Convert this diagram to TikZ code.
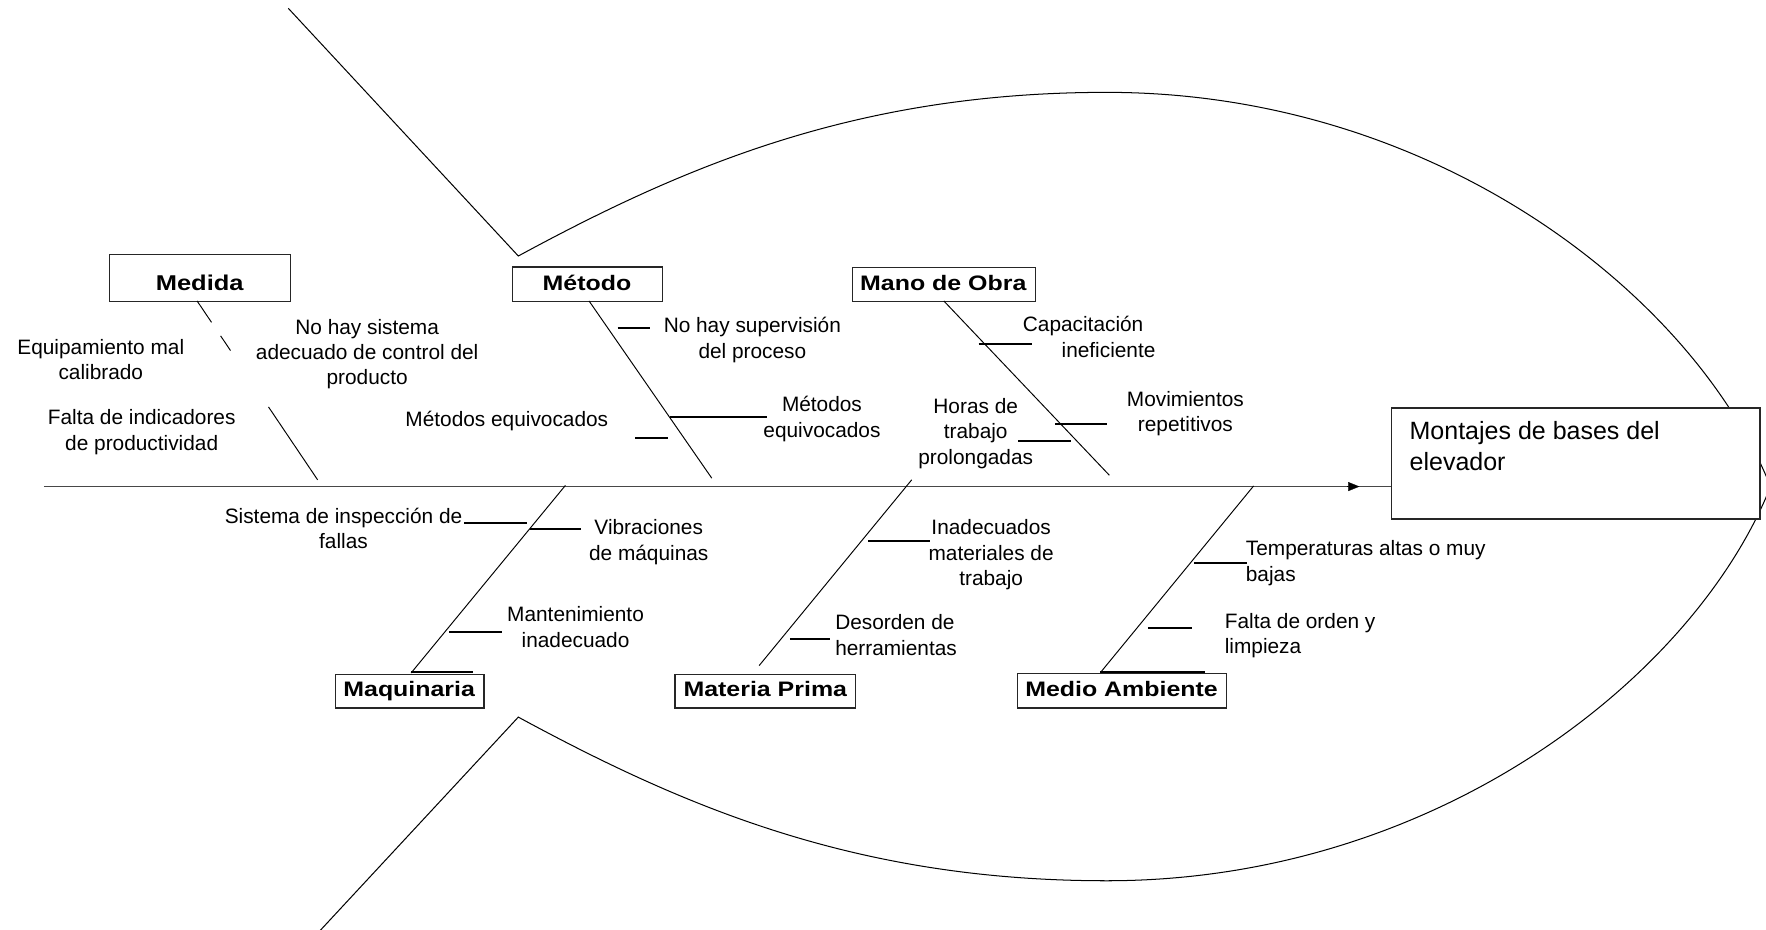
\documentclass[tikz,border=0pt]{standalone}
\usepackage{fontspec}
\setmainfont{Liberation Sans}
\newfontfamily\labfont{Liberation Sans}[FakeStretch=1.19]
\usetikzlibrary{arrows.meta}
\begin{document}
\begin{tikzpicture}[x=1pt,y=-1pt,
  txt/.style={inner sep=0pt, font=\fontsize{18.5}{22.5}\selectfont, align=center},
  lab/.style={inner sep=0pt, font=\labfont\bfseries\fontsize{18.6}{22}\selectfont},
  catbox/.style={draw=black!85, line width=1.1pt, fill=white, inner sep=0pt, anchor=north west},
  bone/.style={line width=0.85pt, black},
  tickln/.style={line width=1.8pt, black},
  outline/.style={line width=0.9pt, black},
  spine/.style={line width=1.5pt, black!72}]
\clip (0,0) rectangle (1568,825);
\fill[white] (0,0) rectangle (1568,825);

% fish outline
\draw[outline] (256,7.4) -- (460.2,227.3)
  .. controls (610.2,146) and (762.6,82) .. (982.6,82)
  .. controls (1277.6,82) and (1505.4,264.8) .. (1572,432);
\draw[outline] (256,856.6) -- (460.2,636.7)
  .. controls (610.2,718) and (762.6,782) .. (982.6,782)
  .. controls (1277.6,782) and (1505.4,599.2) .. (1572,432);

% effect box
\node[catbox, minimum width=327.4pt, minimum height=98.6pt] (effect) at (1234.8,361.6) {};
\node[anchor=base west, align=left, inner sep=0pt, font=\fontsize{22.2}{27.3}\selectfont] (efft) at (1251.4,417.9) {Montajes de bases del\\elevador};

% spine
\coordinate (tail) at (39,432);
\coordinate (tip) at (1207,432);
\coordinate (pre) at (1196,432);
\draw[spine] (tail) -- (tail -| effect.west);
\draw[black, line width=0.2pt, -{Triangle[length=10pt,width=8pt]}] (pre) -- (tip);

% category boxes
\node[catbox, minimum width=160.6pt, minimum height=41.7pt] (medida) at (97,225.5) {};
\node[catbox, minimum width=133.5pt, minimum height=30.6pt] (metodo) at (454.5,236.6) {};
\node[catbox, minimum width=162.6pt, minimum height=30.4pt] (mano) at (756.3,236.8) {};
\node[catbox, minimum width=132.1pt, minimum height=29.6pt] (maq) at (297,598.4) {};
\node[catbox, minimum width=160.6pt, minimum height=29.6pt] (mat) at (598.7,598.4) {};
\node[catbox, minimum width=185.7pt, minimum height=30.8pt] (medio) at (903,597.2) {};

\node[lab, anchor=base, font=\labfont\bfseries\fontsize{19}{22}\selectfont] (medidat) at (177.3,257.5) {Medida};
\node[lab, anchor=base] (metodot) at (521.2,257.5) {Método};
\node[lab, anchor=base] (manot) at (837.5,257.5) {Mano de Obra};
\node[lab, anchor=base] (maqt) at (363.3,618.5) {Maquinaria};
\node[lab, anchor=base] (matt) at (679.5,618.5) {Materia Prima};
\node[lab, anchor=base] (mediot) at (995.8,618) {Medio Ambiente};

% bones
\coordinate (mdA) at (175,267.2);  \coordinate (mdB) at (282,426);
\coordinate (mtA) at (523,267.2);  \coordinate (mtB) at (632,424.6);
\coordinate (moA) at (838,267.2);  \coordinate (moB) at (985,422);
\coordinate (mqA) at (502,431);    \coordinate (mqB) at (365,597.5);
\coordinate (mpA) at (809.5,426);  \coordinate (mpB) at (674,591);
\coordinate (maA) at (1113,431.5); \coordinate (maB) at (977,597.2);
\draw[bone, dash pattern=on 22.9pt off 14.5pt on 15.7pt off 60.4pt on 90pt] (mdA) -- (mdB);
\draw[bone] (mtA) -- (mtB);
\draw[bone] (moA) -- (moB);
\draw[bone] (mqA) -- (mqB);
\draw[bone] (mpA) -- (mpB);
\draw[bone] (maA) -- (maB);

% ticks
\draw[tickln] (548.3,291.5) -- (576.8,291.5);
\draw[tickln] (563.8,388.6) -- (593.1,388.6);
\draw[tickln] (595.2,369.9) -- (681,369.9);
\draw[tickln] (869,305.4) -- (916,305.4);
\draw[tickln] (937,376.7) -- (983,376.7);
\draw[tickln] (904,391.6) -- (951,391.6);
\draw[tickln] (412,464.7) -- (467.8,464.7);
\draw[tickln] (470.3,470) -- (516,470);
\draw[tickln] (398.9,561.4) -- (445.8,561.4);
\draw[tickln] (365.1,596.6) -- (420.1,596.6);
\draw[tickln] (770.7,480) -- (826,480);
\draw[tickln] (701.4,567.6) -- (736.9,567.6);
\draw[tickln] (1060.4,500.2) -- (1106.9,500.2);
\draw[tickln] (1019.2,557.3) -- (1058.3,557.3);
\draw[tickln] (976.7,596.6) -- (1070,596.6);

% texts (anchor=base is the baseline of the last line)
\node[txt, anchor=base] (t1) at (89.5,336.9) {Equipamiento mal\\calibrado};
\node[txt, anchor=base] (t2) at (326,341.8) {No hay sistema\\adecuado de control del\\producto};
\node[txt, anchor=base] (t3) at (125.8,399.8) {Falta de indicadores\\de productividad};
\node[txt, anchor=base] (t4) at (450,379) {Métodos equivocados};
\node[txt, anchor=base] (t5) at (668,317.9) {No hay supervisión\\del proceso};
\node[txt, anchor=base] (t6) at (729.8,388) {Métodos\\equivocados};
\node[txt, anchor=base west, align=left] (t7) at (908,317) {Capacitación\\\hspace*{34.4pt}ineficiente};
\node[txt, anchor=base] (t8) at (866.3,412) {Horas de\\trabajo\\prolongadas};
\node[txt, anchor=base] (t9) at (1052.5,383.5) {Movimientos\\repetitivos};
\node[txt, anchor=base] (t10) at (305,487.2) {Sistema de inspección de\\fallas};
\node[txt, anchor=base] (t11) at (576,497.5) {Vibraciones\\de máquinas};
\node[txt, anchor=base] (t12) at (511,574.5) {Mantenimiento\\inadecuado};
\node[txt, anchor=base] (t13) at (880,520) {Inadecuados\\materiales de\\trabajo};
\node[txt, anchor=base west, align=left] (t14) at (741.4,581.8) {Desorden de\\herramientas};
\node[txt, anchor=base west, align=left] (t15) at (1106,516.1) {Temperaturas altas o muy\\bajas};
\node[txt, anchor=base west, align=left] (t16) at (1087.3,580.4) {Falta de orden y\\limpieza};
\end{tikzpicture}
\end{document}
